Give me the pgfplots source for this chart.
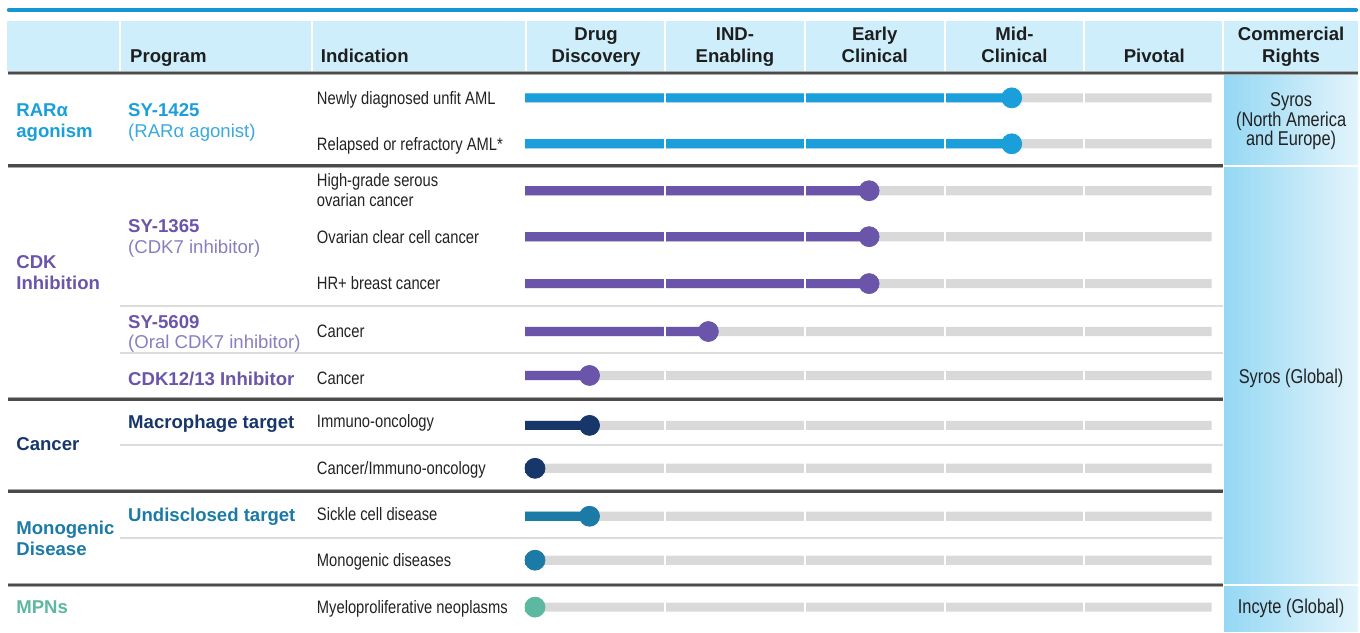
\documentclass[border=0pt]{standalone}
\usepackage{fontspec}
\setmainfont{Liberation Sans}
\newfontfamily\narrowfont[FakeStretch=0.82]{Liberation Sans}
\usepackage{pgfplots}
\pgfplotsset{compat=1.18}
\definecolor{topC}{HTML}{1496D4}
\definecolor{hdBg}{HTML}{CDEEFA}
\definecolor{hdC}{HTML}{1E1E1E}
\definecolor{rarC}{HTML}{1A9FDA}
\definecolor{rarL}{HTML}{3AA9DE}
\definecolor{cdkC}{HTML}{6A55AB}
\definecolor{cdkL}{HTML}{8A7DC0}
\definecolor{navC}{HTML}{17376B}
\definecolor{monC}{HTML}{1B7BA6}
\definecolor{mpnC}{HTML}{5DB8A2}
\definecolor{barG}{HTML}{D9D9D9}
\definecolor{sepD}{HTML}{4A4A4A}
\definecolor{sepS}{HTML}{A8A8A8}
\definecolor{sepL}{HTML}{DCDCDC}
\definecolor{comL}{HTML}{95D8F3}
\definecolor{comR}{HTML}{E3F4FC}
\definecolor{indC}{HTML}{222222}

\pgfplotsset{
 canvas/.style={at={(0pt,0pt)}, anchor=north west, scale only axis, width=680pt, height=316pt,
   xmin=0, xmax=1360, ymin=0, ymax=632, y dir=reverse, hide axis, clip=false},
 gbar/.style={xbar, bar width=4.6pt, bar shift=0pt, draw=none},
 dot/.style={only marks, mark=*, mark size=5pt},
}
\tikzset{
 hd/.style={font=\fontsize{9.3}{11}\selectfont\bfseries, text=hdC, inner sep=0pt, anchor=base},
 hdw/.style={font=\fontsize{9.3}{11}\selectfont\bfseries, text=hdC, inner sep=0pt, anchor=base west},
 cat/.style={font=\fontsize{9.3}{11}\selectfont\bfseries, inner sep=0pt, anchor=base west},
 prg/.style={font=\fontsize{9.3}{11}\selectfont, inner sep=0pt, anchor=base west},
 ind/.style={font=\fontsize{9}{11}\narrowfont, text=indC, inner sep=0pt, anchor=base west},
 com/.style={font=\fontsize{10}{12}\narrowfont, text=indC, inner sep=0pt, anchor=base},
 thick sep/.style={line width=1.3pt, sepD},
 thin sep/.style={line width=1pt, sepL},
}

\begin{document}
\begin{tikzpicture}
% ---------- background layer ----------
\begin{axis}[canvas]
 \path (0,0) rectangle (1360,632);
 \draw[topC, line width=2.2pt, line cap=round] (9,10) -- (1358,10);
 \fill[hdBg] (7,21) rectangle (1360,71);
 \shade[left color=comL, right color=comR] (1226,74) rectangle (1360,632);
\end{axis}

% ---------- data layer (x in development phases, 0 = start of Drug Discovery) ----------
\begin{axis}[at={(263pt,0pt)}, anchor=north west, scale only axis, width=350pt, height=316pt,
   xmin=0, xmax=5, ymin=0, ymax=632, y dir=reverse, hide axis, clip=false]
 % full-length grey tracks
 \addplot[gbar, fill=barG] table {
 x y
 4.91 98
 4.91 144
 4.91 191
 4.91 237
 4.91 284
 4.91 332
 4.91 376
 4.91 426
 4.91 469
 4.91 517
 4.91 561
 4.91 608
 };
 % RAR agonism
 \addplot[gbar, fill=rarC] table {
 x y
 3.48 98
 3.48 144
 };
 % CDK inhibition
 \addplot[gbar, fill=cdkC] table {
 x y
 2.46 191
 2.46 237
 2.46 284
 1.31 332
 0.46 376
 };
 % Cancer
 \addplot[gbar, fill=navC] table {
 x y
 0.46 426
 0.07 469
 };
 % Monogenic disease
 \addplot[gbar, fill=monC] table {
 x y
 0.46 517
 0.07 561
 };
 % MPNs
 \addplot[gbar, fill=mpnC] table {
 x y
 0.07 608
 };
 % phase gaps
 \draw[white, line width=1pt] (1,21) -- (1,632);
 \draw[white, line width=1pt] (2,21) -- (2,632);
 \draw[white, line width=1pt] (3,21) -- (3,632);
 \draw[white, line width=1pt] (4,21) -- (4,632);
 % progress dots
 \addplot[dot, rarC] table {
 x y
 3.48 98
 3.48 144
 };
 \addplot[dot, cdkC] table {
 x y
 2.46 191
 2.46 237
 2.46 284
 1.31 332
 0.46 376
 };
 \addplot[dot, navC] table {
 x y
 0.46 426
 0.07 469
 };
 \addplot[dot, monC] table {
 x y
 0.46 517
 0.07 561
 };
 \addplot[dot, mpnC] table {
 x y
 0.07 608
 };
\end{axis}

% ---------- foreground layer ----------
\begin{axis}[canvas]
 % header separators
 \draw[white, line width=1pt] (120,21) -- (120,71);
 \draw[white, line width=1pt] (312,21) -- (312,71);
 \draw[white, line width=1pt] (527,21) -- (527,71);
 \draw[white, line width=1pt] (1225,21) -- (1225,71);
 % commercial column separators
 \draw[white, line width=1pt] (1226,166.5) -- (1360,166.5);
 \draw[white, line width=1pt] (1226,586) -- (1360,586);
 % thick separators
 \draw[sepS, line width=2pt] (8,73) -- (1360,73);
 \draw[thick sep] (8,73) -- (1360,73);
 \draw[sepS, line width=2pt] (8,166) -- (1225,166);
 \draw[thick sep] (8,166) -- (1225,166);
 \draw[sepS, line width=2pt] (8,400) -- (1225,400);
 \draw[thick sep] (8,400) -- (1225,400);
 \draw[sepS, line width=2pt] (8,492) -- (1225,492);
 \draw[thick sep] (8,492) -- (1225,492);
 \draw[sepS, line width=2pt] (8,586) -- (1225,586);
 \draw[thick sep] (8,586) -- (1225,586);
 % thin separators
 \draw[thin sep] (120,306) -- (1225,306);
 \draw[thin sep] (120,354) -- (1225,354);
 \draw[thin sep] (120,446) -- (1225,446);
 \draw[thin sep] (120,539) -- (1225,539);
 % header text
 \node[hdw] at (130,63) {Program};
 \node[hdw] at (321,63) {Indication};
 \node[hd] at (597,41) {Drug};
 \node[hd] at (597,63) {Discovery};
 \node[hd] at (736,41) {IND-};
 \node[hd] at (736,63) {Enabling};
 \node[hd] at (876,41) {Early};
 \node[hd] at (876,63) {Clinical};
 \node[hd] at (1016,41) {Mid-};
 \node[hd] at (1016,63) {Clinical};
 \node[hd] at (1156,63) {Pivotal};
 \node[hd] at (1293,41) {Commercial};
 \node[hd] at (1293,63) {Rights};
 % category labels
 \node[cat, text=rarC] at (16,117) {RARα};
 \node[cat, text=rarC] at (16,138) {agonism};
 \node[cat, text=cdkC] at (16,269) {CDK};
 \node[cat, text=cdkC] at (16,290) {Inhibition};
 \node[cat, text=navC] at (16,451) {Cancer};
 \node[cat, text=monC] at (16,535) {Monogenic};
 \node[cat, text=monC] at (16,556) {Disease};
 \node[cat, text=mpnC] at (16,614) {MPNs};
 % programs
 \node[cat, text=rarC] at (128,117) {SY-1425};
 \node[prg, text=rarL] at (128,138) {(RARα agonist)};
 \node[cat, text=cdkC] at (128,233) {SY-1365};
 \node[prg, text=cdkL] at (128,254) {(CDK7 inhibitor)};
 \node[cat, text=cdkC] at (128,329) {SY-5609};
 \node[prg, text=cdkL] at (128,349) {(Oral CDK7 inhibitor)};
 \node[cat, text=cdkC] at (128,386) {CDK12/13 Inhibitor};
 \node[cat, text=navC] at (128,429) {Macrophage target};
 \node[cat, text=monC] at (128,522) {Undisclosed target};
 % indications
 \node[ind] at (317,104.5) {Newly diagnosed unfit AML};
 \node[ind] at (317,150.5) {Relapsed or refractory AML*};
 \node[ind] at (317,187) {High-grade serous};
 \node[ind] at (317,207) {ovarian cancer};
 \node[ind] at (317,243.5) {Ovarian clear cell cancer};
 \node[ind] at (317,290) {HR+ breast cancer};
 \node[ind] at (317,338) {Cancer};
 \node[ind] at (317,385) {Cancer};
 \node[ind] at (317,428.5) {Immuno-oncology};
 \node[ind] at (317,475.5) {Cancer/Immuno-oncology};
 \node[ind] at (317,521.5) {Sickle cell disease};
 \node[ind] at (317,567.5) {Monogenic diseases};
 \node[ind] at (317,614.5) {Myeloproliferative neoplasms};
 % commercial rights
 \node[com] at (1293,107) {Syros};
 \node[com] at (1293,127) {(North America};
 \node[com] at (1293,146) {and Europe)};
 \node[com] at (1293,384) {Syros (Global)};
 \node[com] at (1293,614) {Incyte (Global)};
\end{axis}
\end{tikzpicture}
\end{document}
